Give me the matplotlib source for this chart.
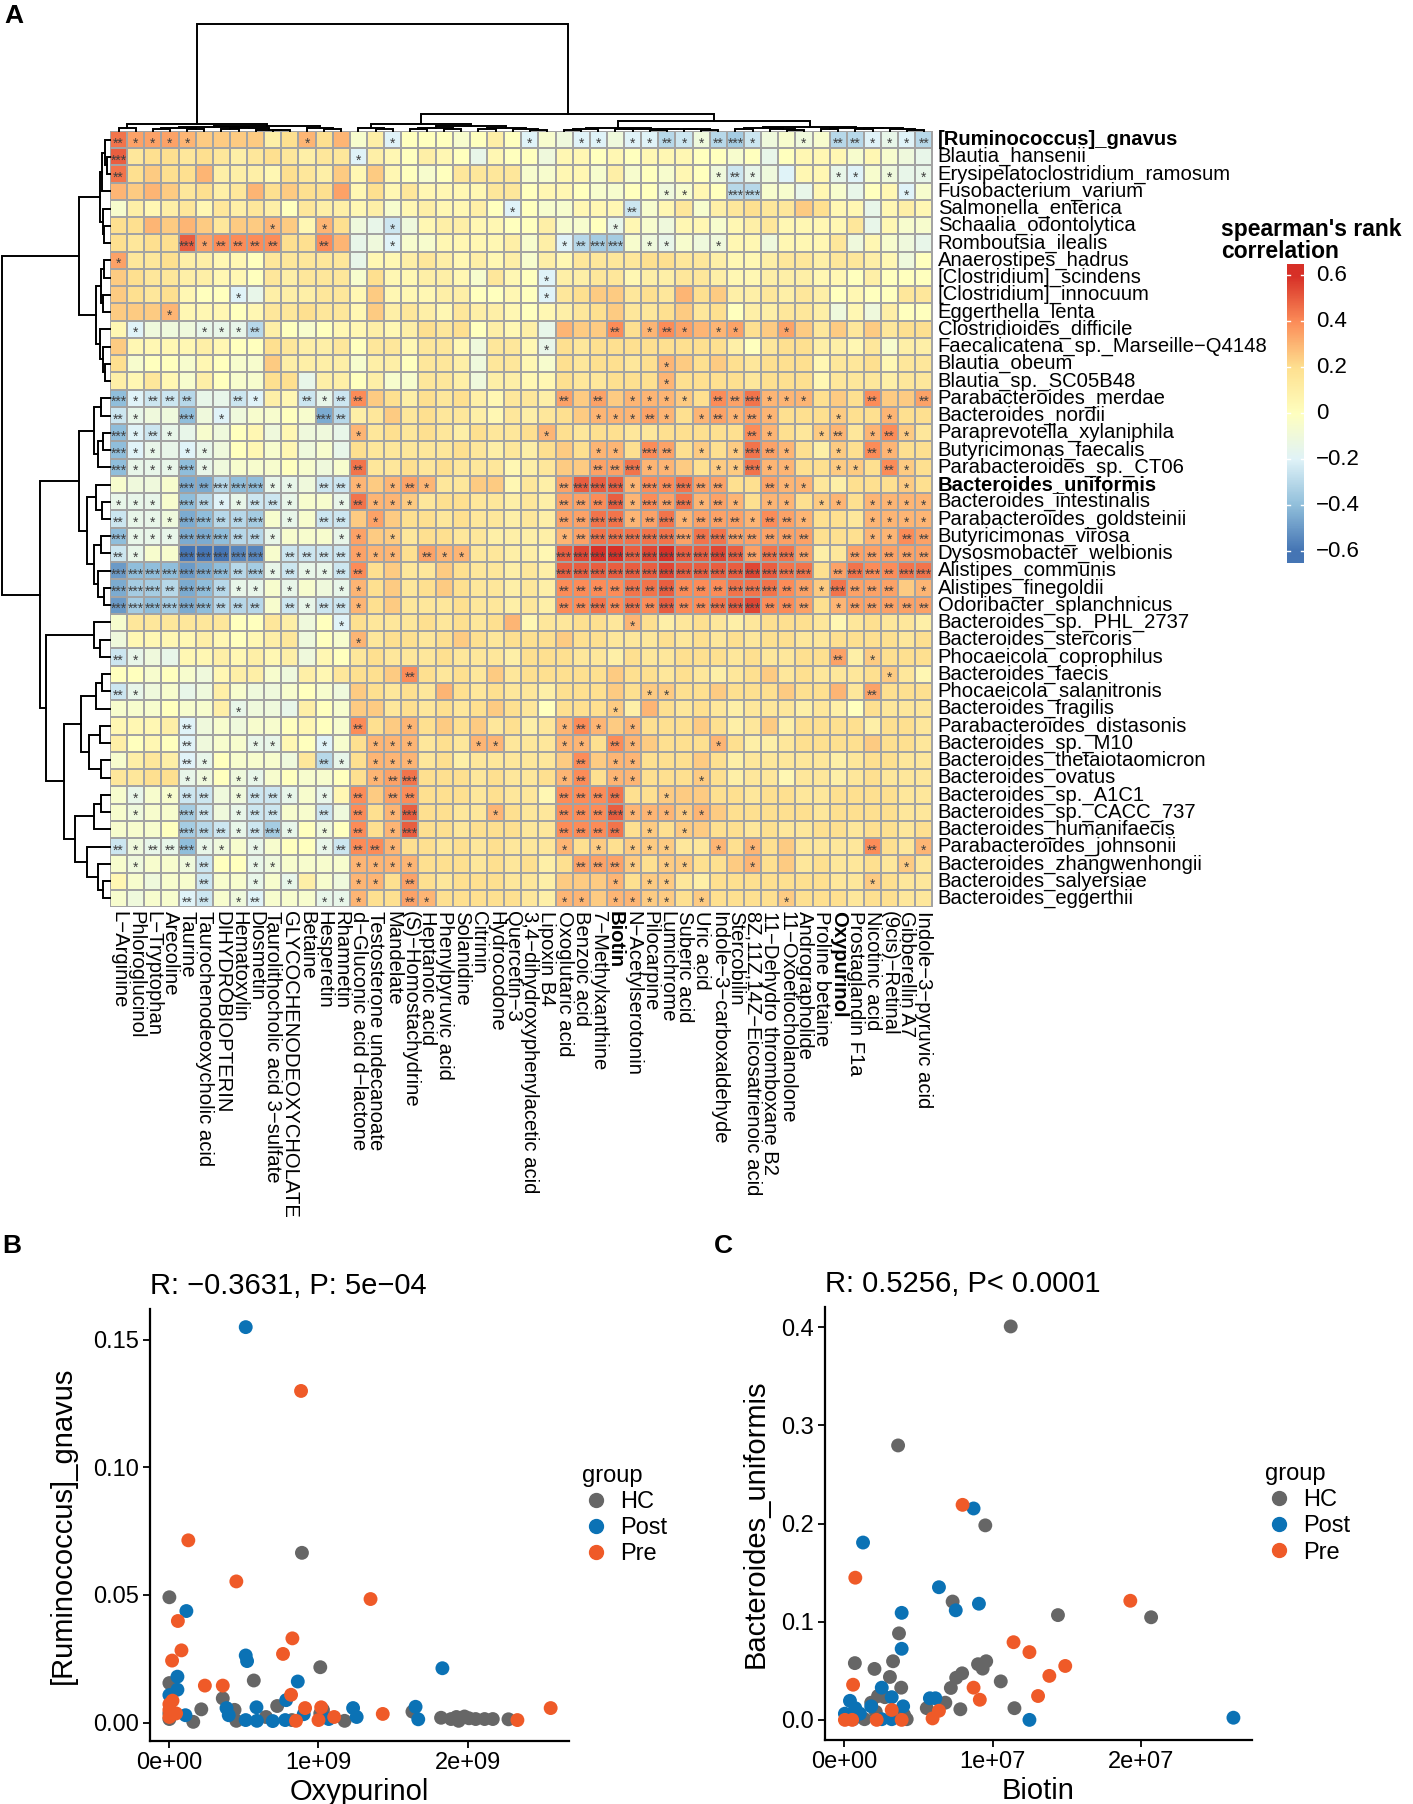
import numpy as np
import matplotlib

matplotlib.use("Agg")

import matplotlib.pyplot as plt
from matplotlib.colors import LinearSegmentedColormap, Normalize
from matplotlib.lines import Line2D

plt.rcParams["font.family"] = ["Liberation Sans", "DejaVu Sans"]

W, H = 1413, 1804

species = [
    "[Ruminococcus]_gnavus", "Blautia_hansenii", "Erysipelatoclostridium_ramosum",
    "Fusobacterium_varium", "Salmonella_enterica", "Schaalia_odontolytica",
    "Romboutsia_ilealis", "Anaerostipes_hadrus", "[Clostridium]_scindens",
    "[Clostridium]_innocuum", "Eggerthella_lenta", "Clostridioides_difficile",
    "Faecalicatena_sp._Marseille\u2212Q4148", "Blautia_obeum", "Blautia_sp._SC05B48",
    "Parabacteroides_merdae", "Bacteroides_nordii", "Paraprevotella_xylaniphila",
    "Butyricimonas_faecalis", "Parabacteroides_sp._CT06", "Bacteroides_uniformis",
    "Bacteroides_intestinalis", "Parabacteroides_goldsteinii", "Butyricimonas_virosa",
    "Dysosmobacter_welbionis", "Alistipes_communis", "Alistipes_finegoldii",
    "Odoribacter_splanchnicus", "Bacteroides_sp._PHL_2737", "Bacteroides_stercoris",
    "Phocaeicola_coprophilus", "Bacteroides_faecis", "Phocaeicola_salanitronis",
    "Bacteroides_fragilis", "Parabacteroides_distasonis", "Bacteroides_sp._M10",
    "Bacteroides_thetaiotaomicron", "Bacteroides_ovatus", "Bacteroides_sp._A1C1",
    "Bacteroides_sp._CACC_737", "Bacteroides_humanifaecis", "Parabacteroides_johnsonii",
    "Bacteroides_zhangwenhongii", "Bacteroides_salyersiae", "Bacteroides_eggerthii",
]

metabolites = [
    "L\u2212Arginine", "Phloroglucinol", "L\u2212Tryptophan", "Arecoline", "Taurine",
    "Taurochenodeoxycholic acid", "DIHYDROBIOPTERIN", "Hematoxylin", "Diosmetin",
    "Taurolithocholic acid 3\u2212sulfate", "GLYCOCHENODEOXYCHOLATE", "Betaine",
    "Hesperetin", "Rhamnetin", "d\u2212Gluconic acid d\u2212lactone",
    "Testosterone undecanoate", "Mandelate", "(S)\u2212Homostachydrine", "Heptanoic acid",
    "Phenylpyruvic acid", "Solanidine", "Citrinin", "Hydrocodone", "Quercetin\u22123",
    "3,4\u2212dihydroxyphenylacetic acid", "Lipoxin B4", "Oxoglutaric acid", "Benzoic acid",
    "7\u2212Methylxanthine", "Biotin", "N\u2212Acetylserotonin", "Pilocarpine", "Lumichrome",
    "Suberic acid", "Uric acid", "Indole\u22123\u2212carboxaldehyde", "Stercobilin",
    "8Z,11Z,14Z\u2212Eicosatrienoic acid", "11\u2212Dehydro thromboxane B2",
    "11\u2212Oxoetiocholanolone", "Andrographolide", "Proline betaine", "Oxypurinol",
    "Prostaglandin F1a", "Nicotinic acid", "(9cis)\u2212Retinal", "Gibberellin A7",
    "Indole\u22123\u2212pyruvic acid",
]

bold_species = {"[Ruminococcus]_gnavus", "Bacteroides_uniformis"}
bold_metabolites = {"Biotin", "Oxypurinol"}

# spearman correlation per species row, in steps of 0.05
corr_rows = [
    "9 7 7 7 6 5 5 5 5 2 4 6 4 6 -1 2 -4 0 0 0 -1 0 2 0 -4 -1 -2 -4 -4 -2 -4 -4 -6 -5 -2 -6 -7 -5 -2 -1 -2 -1 -6 -6 -4 -3 -4 -6",
    "10 3 4 4 3 4 3 2 3 4 3 2 3 3 -4 2 1 0 2 1 0 -3 1 0 0 -2 1 1 0 1 0 1 1 1 0 0 -1 0 -3 0 1 1 1 -1 1 -1 -2 -3",
    "9 4 5 4 4 6 2 2 2 1 4 3 2 5 1 5 1 0 -1 0 3 3 3 3 -1 -1 1 1 -1 2 -1 0 -1 1 0 -2 -5 -3 -2 -4 1 1 -3 -4 -1 -2 -3 -3",
    "6 5 6 5 3 4 2 3 6 4 5 4 4 7 1 4 1 3 1 1 1 1 3 3 0 1 1 0 -1 -1 0 0 -2 -1 1 0 -6 -6 -1 -1 -3 1 -1 -3 0 1 -4 -1",
    "-1 2 1 2 3 1 3 2 3 2 0 3 2 2 1 2 -1 1 2 1 1 2 0 -4 0 -1 -1 1 1 1 -5 -1 1 3 -1 2 3 4 3 3 5 4 1 1 -3 1 2 1",
    "4 4 6 5 6 5 3 5 5 6 5 1 6 4 -2 -3 -5 -2 1 2 2 1 1 0 0 2 -1 -1 0 -3 1 -1 -2 1 1 -1 1 2 3 1 1 1 1 3 -3 1 -1 -1",
    "4 3 4 4 10 7 8 8 8 8 4 4 8 6 -3 -2 -4 -1 -1 1 1 1 1 2 -1 2 -4 -6 -7 -7 -1 -2 -3 -1 -2 -2 1 1 -2 1 1 1 3 -2 1 -1 -2 -3",
    "7 3 3 4 2 2 1 1 0 3 3 3 3 3 -3 1 1 2 3 2 1 2 1 2 -1 2 1 3 3 3 3 4 4 3 3 2 1 1 2 3 3 2 3 3 2 1 -2 0",
    "5 4 3 3 2 2 1 1 0 3 2 3 3 3 -1 4 1 1 2 2 1 -1 3 1 0 -4 2 2 3 3 1 2 2 3 3 2 1 1 2 2 2 1 1 0 2 0 0 0",
    "5 4 3 4 1 0 0 -4 -3 2 2 2 3 3 1 5 1 1 1 2 2 0 0 1 0 -4 3 4 5 5 3 4 3 6 4 5 2 2 3 2 3 2 0 1 0 0 3 3",
    "5 5 5 6 1 1 1 0 1 3 3 4 3 3 1 5 2 3 2 1 3 2 2 1 0 1 2 3 4 5 3 3 4 5 3 4 0 2 2 3 3 2 -2 1 -2 2 0 0",
    "1 -4 -2 -2 -2 -3 -3 -3 -6 2 0 -1 0 1 1 2 1 2 4 3 4 0 2 1 2 -3 6 5 5 8 4 6 8 7 6 6 7 4 5 7 5 3 5 3 5 3 4 4",
    "5 1 1 1 1 2 1 0 0 4 3 2 2 3 0 3 3 1 3 3 1 -2 3 3 1 -3 4 3 4 4 4 4 4 4 4 4 2 0 3 4 4 2 2 1 3 -1 2 2",
    "4 -1 0 0 -1 1 0 -1 -1 5 2 2 2 2 -1 2 2 0 3 3 2 -2 3 3 1 -1 4 3 4 4 3 4 6 5 4 5 4 3 4 4 4 1 3 3 4 1 3 3",
    "2 1 3 1 -1 2 0 -1 -1 4 4 -3 2 2 0 2 -1 -1 3 3 2 -2 2 2 1 1 4 3 3 4 4 4 6 4 4 4 4 3 4 4 4 1 3 3 3 2 3 3",
    "-8 -4 -5 -5 -6 -3 -3 -5 -4 2 1 -5 -3 -5 8 5 4 2 4 3 4 2 1 3 3 2 7 5 7 5 6 6 6 5 4 8 7 9 6 6 6 4 5 4 8 5 5 7",
    "-5 -3 -2 -2 -8 -2 -4 -2 -1 -1 0 -1 -9 -6 2 3 5 3 4 3 3 2 1 3 2 3 4 5 6 6 6 7 6 4 6 7 6 7 6 4 4 4 5 4 4 6 4 4",
    "-8 -4 -5 -3 -3 -1 -2 0 1 -2 1 -2 -2 -3 6 3 4 3 4 3 2 4 3 3 4 6 4 3 4 4 3 3 4 4 4 4 4 8 6 4 3 5 6 3 6 8 5 3",
    "-8 -4 -3 -3 -4 -3 -2 0 1 -1 1 -2 -1 -3 4 3 3 3 3 3 4 3 2 3 2 4 5 4 6 6 4 8 7 4 5 4 5 9 7 6 4 2 5 4 8 6 4 4",
    "-8 -3 -3 -3 -8 -3 -2 -1 -1 -1 0 -1 -2 -1 9 3 3 4 3 4 3 3 3 1 2 3 5 5 7 7 9 6 6 5 4 5 5 9 6 6 4 4 5 5 4 8 5 4",
    "-1 -2 -2 -1 -9 -9 -6 -8 -8 -3 -3 -2 -5 -5 6 5 6 7 6 3 3 5 5 1 3 2 7 10 10 10 6 8 8 9 7 7 4 4 7 6 6 3 2 4 4 4 5 4",
    "-3 -3 -3 -1 -8 -6 -4 -3 -5 -5 -3 -1 -1 -3 9 6 6 5 3 4 4 3 3 2 3 2 7 7 8 10 6 8 7 9 6 7 6 4 6 6 4 5 6 4 6 6 6 6",
    "-5 -3 -3 -2 -9 -8 -6 -6 -7 -1 -3 -1 -5 -5 5 7 5 4 4 3 4 3 3 2 3 2 7 7 9 9 6 7 9 6 7 7 7 6 8 7 6 4 4 3 6 6 6 6",
    "-8 -3 -3 -3 -9 -9 -8 -6 -6 -3 -1 -1 -1 -3 7 5 5 3 4 4 3 3 2 2 2 2 6 7 9 9 9 9 9 7 9 9 7 7 7 7 7 4 4 4 6 6 8 7",
    "-5 -3 -1 -1 -12 -12 -12 -11 -11 -1 -5 -5 -5 -5 7 6 6 4 7 6 6 3 3 2 2 1 10 11 12 12 10 11 12 10 10 11 10 7 9 9 7 2 3 7 7 7 7 7",
    "-10 -8 -8 -8 -10 -9 -8 -6 -7 -3 -5 -3 -3 -5 8 4 5 3 3 5 4 3 3 2 3 2 10 10 10 10 10 10 11 10 10 10 10 11 10 9 9 4 7 9 8 8 9 9",
    "-9 -7 -7 -6 -9 -8 -6 -3 -3 -1 -3 -1 -2 -3 6 4 5 3 4 5 4 3 3 2 3 2 8 8 8 8 9 9 10 8 8 8 9 9 9 8 7 5 9 7 7 7 5 6",
    "-10 -7 -8 -7 -9 -8 -6 -6 -6 -1 -5 -3 -5 -5 6 4 5 3 3 3 4 3 3 2 3 2 8 8 9 8 9 8 10 8 8 9 10 11 8 8 7 4 6 7 7 7 7 7",
    "-1 3 3 3 3 3 3 0 0 3 2 -2 0 -4 4 3 3 3 4 3 4 3 4 6 1 3 3 4 4 3 6 4 2 3 4 3 2 3 4 4 4 3 1 3 4 3 3 2",
    "-2 1 1 1 1 2 1 0 1 2 3 -2 0 -1 6 3 4 4 3 4 5 4 3 4 4 4 5 4 4 3 3 3 4 3 4 3 4 3 4 4 3 3 4 4 4 4 3 4",
    "-5 -3 -2 -3 1 1 2 1 2 1 2 -2 1 0 3 4 3 3 3 4 3 3 3 2 4 4 4 3 3 2 4 3 3 4 4 4 3 4 3 3 4 4 7 2 5 4 4 4",
    "0 0 -1 0 -1 -2 1 2 2 -1 -2 2 1 3 4 4 5 8 4 3 4 3 5 3 4 4 4 4 4 5 4 4 3 4 3 2 3 4 5 3 4 3 3 3 4 5 3 1",
    "-5 -3 -2 -1 -3 -2 2 -1 -2 -2 -1 0 -1 -2 5 4 3 4 3 6 4 3 4 3 3 2 4 4 4 5 4 5 5 4 4 5 4 4 4 5 4 4 6 3 7 4 4 4",
    "-1 -1 -1 0 -1 -1 2 -3 -2 -2 -3 2 0 -1 5 5 3 4 3 4 3 4 5 4 3 0 4 4 4 5 2 6 4 3 4 3 2 3 3 3 2 3 2 0 4 3 3 3",
    "1 1 1 2 -4 -2 -1 -2 -1 -1 0 1 0 -1 8 4 5 6 4 5 4 5 3 4 2 3 6 8 6 5 6 4 4 4 5 4 2 3 5 2 4 4 4 4 2 4 4 3",
    "2 0 1 0 -4 -2 -1 -1 -3 -3 1 0 -4 -1 4 6 6 6 3 4 3 6 6 3 3 3 6 6 4 8 6 5 4 4 4 6 4 2 2 3 4 4 4 4 5 4 4 3",
    "-1 2 3 2 -4 -3 0 -1 -1 -1 -2 3 -6 -3 4 6 6 6 3 4 2 3 3 3 3 3 5 8 5 6 6 4 4 4 5 4 2 3 3 3 3 3 2 3 4 4 3 3",
    "3 3 4 4 -3 -2 0 -2 -3 -1 0 -1 -1 0 4 6 7 9 4 4 4 3 4 3 3 4 6 8 4 6 6 4 4 4 5 4 2 3 3 1 3 3 2 3 4 3 3 3",
    "-1 -3 -1 -1 -5 -5 -2 -2 -5 -5 -3 -1 -3 1 8 5 7 8 4 4 4 3 4 3 3 1 8 8 8 9 4 4 5 5 5 4 4 3 4 4 3 3 4 4 4 4 3 3",
    "-1 -2 -1 -1 -7 -5 -2 -3 -5 -5 -1 -1 -5 -2 8 4 6 10 4 4 3 3 6 4 3 3 8 8 8 10 6 6 6 5 6 5 4 4 4 4 4 3 4 4 4 4 3 3",
    "-1 -1 -1 0 -7 -6 -5 -3 -5 -7 -3 0 -2 0 8 4 6 10 4 4 3 4 4 4 3 3 8 8 8 9 4 5 4 5 5 4 4 3 4 3 3 4 4 3 4 4 3 4",
    "-5 -2 -3 -3 -8 -3 -2 -1 -3 -1 0 0 -3 -5 8 8 6 4 4 3 4 3 4 3 3 3 6 4 5 4 5 5 5 3 3 6 4 6 4 5 3 3 3 3 8 4 3 6",
    "-1 -2 -1 -1 -2 -5 0 0 -3 -2 -1 -1 -1 -1 6 6 6 6 4 4 4 3 4 3 4 2 4 7 7 7 5 4 5 5 4 4 5 6 4 5 3 4 3 3 4 3 5 3",
    "1 -1 -2 -1 -1 -5 -1 -1 -3 -1 -3 2 -1 -2 6 6 4 7 4 3 4 4 4 3 3 2 5 5 5 6 4 5 5 3 2 4 4 4 4 4 4 4 3 3 5 4 3 3",
    "-1 -2 -1 -1 -4 -5 -1 -2 -4 -1 -1 -1 -3 -3 6 4 4 7 6 4 4 4 4 4 3 2 6 6 5 6 6 5 5 4 5 4 4 4 4 5 4 4 4 3 4 4 3 3",
]

# number of significance stars per cell
star_rows = [
    "2111100000 0100001000 0000100110 1121123100 10221112",
    "3000000000 0000100000 0000000000 0000000000 00000000",
    "2000000000 0000000000 0000000000 0000012100 00110101",
    "0000000000 0000000000 0000000000 0011003300 00000010",
    "0000000000 0000000000 0001000000 2000000000 00000000",
    "0000000001 0010001000 0000000001 0000000000 00000000",
    "0000312222 0020001000 0000001233 0110010000 00000000",
    "1000000000 0000000000 0000000000 0000000000 00000000",
    "0000000000 0000000000 0000010000 0000000000 00000000",
    "0000000100 0000000000 0000010000 0000000000 00000000",
    "0001000000 0000000000 0000000000 0000000000 00000000",
    "0100011120 0000000000 0000000002 0121011001 00000000",
    "0000000000 0000000000 0000010000 0000000000 00000000",
    "0000000000 0000000000 0000000000 0010000000 00000000",
    "0000000000 0000000000 0000000000 0010000000 00000000",
    "3122200210 0212200000 0000002020 1111022311 10002002",
    "2100301000 0032000000 0000000011 1210121210 00100100",
    "3121000000 0000100000 0000010000 0000000210 01201210",
    "3110110000 0000000000 0000000011 0320101321 00102100",
    "3111310000 0000200000 0000000022 3110011311 00110210",
    "0000323331 1022101210 0000002333 1323220021 10000010",
    "1110321122 1001211100 0000002223 1323121011 01101111",
    "2111332230 1022010000 0000002233 1231222122 10001111",
    "3111333221 0001101000 0000001233 3333233222 20001122",
    "2100333330 2222111021 1000003333 3333333233 20022222",
    "3333333231 2112200000 0000003333 3333333333 30233233",
    "3332332110 1001100000 0000002222 3232223332 21322201",
    "3333332220 2122100000 0000002232 3232233322 20122222",
    "0000000000 0001000000 0000000000 1000000000 00000000",
    "0000000000 0000100000 0000000000 0000000000 00000000",
    "2100000000 0000000000 0000000000 0000000000 00201000",
    "0000000000 0000000200 0000000000 0000000000 00000100",
    "2100000000 0000000000 0000000000 0110000000 00002000",
    "0000000100 0000000000 0000000001 0000000000 00000000",
    "0000200000 0000200100 0000001210 1000000000 00000000",
    "0000200011 0010011100 0110001102 1000010000 00000000",
    "0000210000 0021011100 0000000201 1000000000 00000000",
    "0000110110 0000012300 0000001201 1000100000 00000000",
    "0101220122 1010202200 0000002222 0010000000 00000000",
    "0100320122 0020201300 0010002223 1111100000 00000000",
    "0000322123 1010201300 0000002222 0101000000 00000000",
    "2122311010 0012221000 0000001010 1110010100 00002001",
    "0100120011 0000111100 0000000222 1011000100 00000010",
    "0000020010 1000110200 0000000001 0110000000 00001000",
    "0000220120 0011100210 0000001101 1110100001 00000000",
]

# dendrograms: (merge height, left, right), leaves are display positions
col_tree = (325,
            (20, (8, 0, 1),
             (15, (12, (8, (6, 2, 3), (5, 4, 5)), (9, (6, 6, 7), (4, 8, (3, 9, 10)))),
              (9, 11, (5, 12, 13)))),
            (51,
             (20, (8, 14, (5, 15, 16)),
              (14, (9, (5, 17, 18), (6, 19, 20)), (10, (6, 21, 22), (7, 23, (4, 24, 25))))),
             (30,
              (9, (6, (4, 26, 27), 28), (7, (5, 29, 30), (6, (4, 31, 32), (5, 33, (3, 34, 35))))),
              (13, (9, (6, 36, 37), (7, 38, (4, 39, 40))),
               (10, (7, 41, 42), (8, (5, 43, 44), (6, 45, (4, 46, 47))))))))

row_tree = (93,
            (27, (9, (7, (4, 0, (3, 1, 2)), 3), (6, 4, (5, 5, 6))),
             (12, (8, (5, 7, 8), (6, 9, 10)), (9, 11, (6, 12, (4, 13, 14))))),
            (60,
             (27, (14, (8, 15, 16), (10, (6, 17, 18), 19)),
              (20, (12, 20, (7, 21, 22)), (14, (8, 23, 24), (10, 25, (5, 26, 27))))),
             (55, (14, 28, (9, 29, 30)),
              (40, (25, (12, (7, 31, 32), 33), (18, (9, 34, 35), (8, 36, 37))),
               (30, (14, (8, 38, 39), 40), (20, 41, (10, 42, (6, 43, 44))))))))

cbar_ticks = [0.6, 0.4, 0.2, 0, -0.2, -0.4, -0.6]
cbar_labels = ["0.6", "0.4", "0.2", "0", "\u22120.2", "\u22120.4", "\u22120.6"]

# scatter B: Oxypurinol (x 1e9) vs [Ruminococcus]_gnavus
oxy_hc_x = [0.0, 0.889, 1.012, 0.566, 0.0, 0.358, 0.723, 0.214, 0.437, 1.630, 0.0, 0.0, 0.006,
            0.160, 0.449, 0.648, 0.822, 1.012, 1.045, 1.030, 1.175, 1.822, 1.889, 1.925, 1.940,
            1.979, 2.009, 2.054, 2.114, 2.169, 2.274]
oxy_hc_y = [0.0491, 0.0665, 0.0217, 0.0165, 0.0155, 0.0095, 0.0065, 0.0052, 0.0050, 0.0043,
            0.0036, 0.0014, 0.0024, 0.0003, 0.0007, 0.0022, 0.0010, 0.0036, 0.0022, 0.0050,
            0.0007, 0.0019, 0.0014, 0.0022, 0.0007, 0.0024, 0.0017, 0.0014, 0.0014, 0.0014, 0.0013]
oxy_post_x = [0.512, 0.114, 0.512, 0.521, 1.831, 0.861, 0.054, 0.054, 0.0, 0.783, 0.383, 1.232,
              0.584, 1.651, 0.108, 0.012, 0.398, 0.901, 1.256, 1.069, 1.669, 0.512, 0.587, 0.693,
              0.777]
oxy_post_y = [0.1549, 0.0437, 0.0263, 0.0241, 0.0213, 0.0161, 0.0180, 0.0129, 0.0108, 0.0088,
              0.0057, 0.0057, 0.0060, 0.0062, 0.0029, 0.0036, 0.0029, 0.0033, 0.0022, 0.0014,
              0.0013, 0.0010, 0.0007, 0.0006, 0.0010]
oxy_pre_x = [0.883, 0.127, 0.449, 1.349, 0.057, 0.825, 0.081, 0.762, 0.018, 0.238, 0.358, 0.816,
             0.0, 0.910, 1.018, 2.557, 1.431, 0.045, 0.0, 0.849, 1.0, 1.105, 2.334, 0.021, 0.0]
oxy_pre_y = [0.1299, 0.0714, 0.0553, 0.0484, 0.0398, 0.0330, 0.0283, 0.0269, 0.0243, 0.0145,
             0.0145, 0.0109, 0.0072, 0.0057, 0.0060, 0.0057, 0.0034, 0.0036, 0.0050, 0.0007,
             0.0010, 0.0022, 0.0010, 0.0086, 0.0022]

# scatter C: Biotin (x 1e7) vs Bacteroides_uniformis
bio_hc_x = [1.122, 0.364, 0.951, 0.731, 1.440, 2.067, 0.370, 0.073, 0.330, 0.205, 0.309, 0.385,
            0.902, 0.933, 0.957, 0.795, 0.755, 0.719, 1.055, 0.682, 0.557, 0.783, 1.147, 0.229,
            0.275, 0.183, 0.138, 0.404, 0.422, 0.214]
bio_hc_y = [0.4007, 0.2795, 0.1981, 0.1205, 0.1067, 0.1045, 0.0881, 0.0578, 0.0597, 0.0519,
            0.0437, 0.0328, 0.0567, 0.0522, 0.0597, 0.0474, 0.0429, 0.0325, 0.0392, 0.0175,
            0.0119, 0.0108, 0.0119, 0.0243, 0.0231, 0.0175, 0.0007, 0.0052, 0.0007, 0.0082]
bio_post_x = [0.872, 0.128, 0.639, 0.908, 0.752, 0.388, 0.388, 0.254, 1.248, 2.621, 0.578, 0.615,
              0.040, 0.006, 0.076, 0.107, 0.061, 0.183, 0.254, 0.321, 0.321, 0.398]
bio_post_y = [0.2153, 0.1806, 0.1351, 0.1183, 0.1116, 0.1090, 0.0724, 0.0328, 0.0, 0.0022,
              0.0220, 0.0220, 0.0194, 0.0063, 0.0119, 0.0063, 0.0007, 0.0138, 0.0007, 0.0231,
              0.0007, 0.0138]
bio_pre_x = [0.798, 0.076, 1.927, 1.141, 1.248, 0.061, 1.489, 1.382, 1.306, 0.872, 0.914, 0.639,
             0.596, 0.006, 0.055, 0.220, 0.321, 0.388]
bio_pre_y = [0.2190, 0.1448, 0.1213, 0.0791, 0.0690, 0.0358, 0.0549, 0.0448, 0.0243, 0.0328,
             0.0205, 0.0093, 0.0015, 0.0, 0.0, 0.0, 0.0101, 0.0]

group_names = ["HC", "Post", "Pre"]
group_colors = ["#666666", "#0B72B5", "#EF5A28"]


def box(x0, y0, x1, y1):
    return [x0 / W, 1 - y1 / H, (x1 - x0) / W, (y1 - y0) / H]


def draw_tree(ax, node, orient):
    if isinstance(node, int):
        return node + 0.5, 0.0
    h, left, right = node
    p1, h1 = draw_tree(ax, left, orient)
    p2, h2 = draw_tree(ax, right, orient)
    xs, ys = [p1, p1, p2, p2], [h1, h, h, h2]
    if orient == "left":
        xs, ys = ys, xs
    ax.plot(xs, ys, color="black", lw=1.4, clip_on=False, solid_joinstyle="miter")
    return (p1 + p2) / 2, h


values = np.array([[int(t) for t in r.split()] for r in corr_rows]) * 0.05
stars = np.array([[int(c) for c in r.replace(" ", "")] for r in star_rows])
n_rows, n_cols = values.shape

cmap = LinearSegmentedColormap.from_list(
    "rdylbu", ["#4575B4", "#91BFDB", "#E0F3F8", "#FFFFBF", "#FEE090", "#FC8D59", "#D73027"])
norm = Normalize(-0.6, 0.6)

fig = plt.figure(figsize=(W / 100, H / 100), dpi=100)

# heatmap
ax = fig.add_axes(box(110, 131, 932.5, 907))
ax.pcolormesh(np.arange(n_cols + 1), np.arange(n_rows + 1), values, cmap=cmap, norm=norm,
              edgecolors="#A3A3A3", linewidth=1.25)
ax.set_xlim(0, n_cols)
ax.set_ylim(n_rows, 0)
ax.axis("off")

# significance asterisks; baseline set low so the glyph sits mid-cell
for r in range(n_rows):
    for c in range(n_cols):
        if stars[r, c]:
            ax.text(c + 0.5, r + 0.96, "*" * stars[r, c], ha="center", va="baseline",
                    fontsize=10, color="#3f3f3f")

for r, name in enumerate(species):
    ax.text(n_cols + 0.3, r + 0.5, name, ha="left", va="center", fontsize=14.6,
            fontweight="bold" if name in bold_species else "normal")
for c, name in enumerate(metabolites):
    ax.text(c + 0.5, n_rows + 0.25, name, ha="center", va="top", rotation=270, fontsize=14.6,
            fontweight="bold" if name in bold_metabolites else "normal")

# column dendrogram
axc = fig.add_axes(box(110, 17, 932.5, 131))
draw_tree(axc, col_tree, "top")
axc.set_xlim(0, n_cols)
axc.set_ylim(0, 346)
axc.axis("off")

# row dendrogram
axr = fig.add_axes(box(0, 131, 110, 907))
draw_tree(axr, row_tree, "left")
axr.set_xlim(94.7, 0)
axr.set_ylim(n_rows, 0)
axr.axis("off")

# color legend
axb = fig.add_axes(box(1287, 264, 1304, 563))
grad = np.linspace(0.65, -0.65, 400).reshape(-1, 1)
axb.imshow(grad, cmap=cmap, norm=norm, aspect="auto", extent=[0, 1, -0.65, 0.65])
axb.set_xlim(0, 1)
axb.set_ylim(-0.65, 0.65)
for t in cbar_ticks:
    axb.plot([0, 0.18], [t, t], color="white", lw=1)
    axb.plot([0.82, 1], [t, t], color="white", lw=1)
axb.axis("off")
for t, lab in zip(cbar_ticks, cbar_labels):
    axb.text(1.7, t, lab, ha="left", va="center", fontsize=16, transform=axb.transData)
fig.text(1221 / W, 1 - 218 / H, "spearman's rank\ncorrelation", ha="left", va="top",
         fontsize=16.5, fontweight="bold", linespacing=0.95)

fig.text(4 / W, 1 - 4 / H, "A", ha="left", va="top", fontsize=19, fontweight="bold")
fig.text(2 / W, 1 - 1234 / H, "B", ha="left", va="top", fontsize=19, fontweight="bold")
fig.text(714 / W, 1 - 1234 / H, "C", ha="left", va="top", fontsize=19, fontweight="bold")


def scatter_panel(rect, xs, ys, scale, title, xlabel, ylabel, xlim, ylim,
                  xticks, xticklabels, yticks, yticklabels, ylab_x):
    a = fig.add_axes(rect)
    for x, y, col in zip(xs, ys, group_colors):
        a.scatter(np.array(x) * scale, y, s=100, color=col, edgecolors="none", zorder=3)
    a.set_xlim(xlim[0] * scale, xlim[1] * scale)
    a.set_ylim(*ylim)
    a.set_xticks([v * scale for v in xticks])
    a.set_xticklabels(xticklabels)
    a.set_yticks(yticks)
    a.set_yticklabels(yticklabels)
    for side in ["top", "right"]:
        a.spines[side].set_visible(False)
    for side in ["left", "bottom"]:
        a.spines[side].set_linewidth(1.6)
    a.tick_params(length=5, width=1.3, labelsize=17, pad=3, colors="black")
    a.set_title(title, loc="left", fontsize=21, pad=11)
    a.set_xlabel(xlabel, fontsize=21)
    a.set_ylabel(ylabel, fontsize=21)
    a.xaxis.set_label_coords(0.5, -0.085)
    a.yaxis.set_label_coords(ylab_x, 0.5)
    handles = [Line2D([], [], marker="o", ls="", color=c, markersize=10) for c in group_colors]
    a.legend(handles, group_names, title="group", loc="upper left", bbox_to_anchor=(1.03, 0.64),
             frameon=False, fontsize=17, title_fontsize=17, handlelength=1.2, handletextpad=0.42,
             labelspacing=0.18, borderpad=0, borderaxespad=0, alignment="left")
    return a


scatter_panel(box(150, 1309, 569, 1741),
              [oxy_hc_x, oxy_post_x, oxy_pre_x], [oxy_hc_y, oxy_post_y, oxy_pre_y], 1e9,
              "R: \u22120.3631, P: 5e\u221204", "Oxypurinol", "[Ruminococcus]_gnavus",
              (-0.13, 2.68), (-0.0072, 0.162), [0, 1, 2], ["0e+00", "1e+09", "2e+09"],
              [0, 0.05, 0.10, 0.15], ["0.00", "0.05", "0.10", "0.15"], -0.175)

scatter_panel(box(825, 1307, 1252, 1740),
              [bio_hc_x, bio_post_x, bio_pre_x], [bio_hc_y, bio_post_y, bio_pre_y], 1e7,
              "R: 0.5256, P< 0.0001", "Biotin", "Bacteroides_uniformis",
              (-0.128, 2.746), (-0.0205, 0.4205), [0, 1, 2], ["0e+00", "1e+07", "2e+07"],
              [0, 0.1, 0.2, 0.3, 0.4], ["0.0", "0.1", "0.2", "0.3", "0.4"], -0.13)

fig.savefig("out.png", dpi=100, facecolor="white")
